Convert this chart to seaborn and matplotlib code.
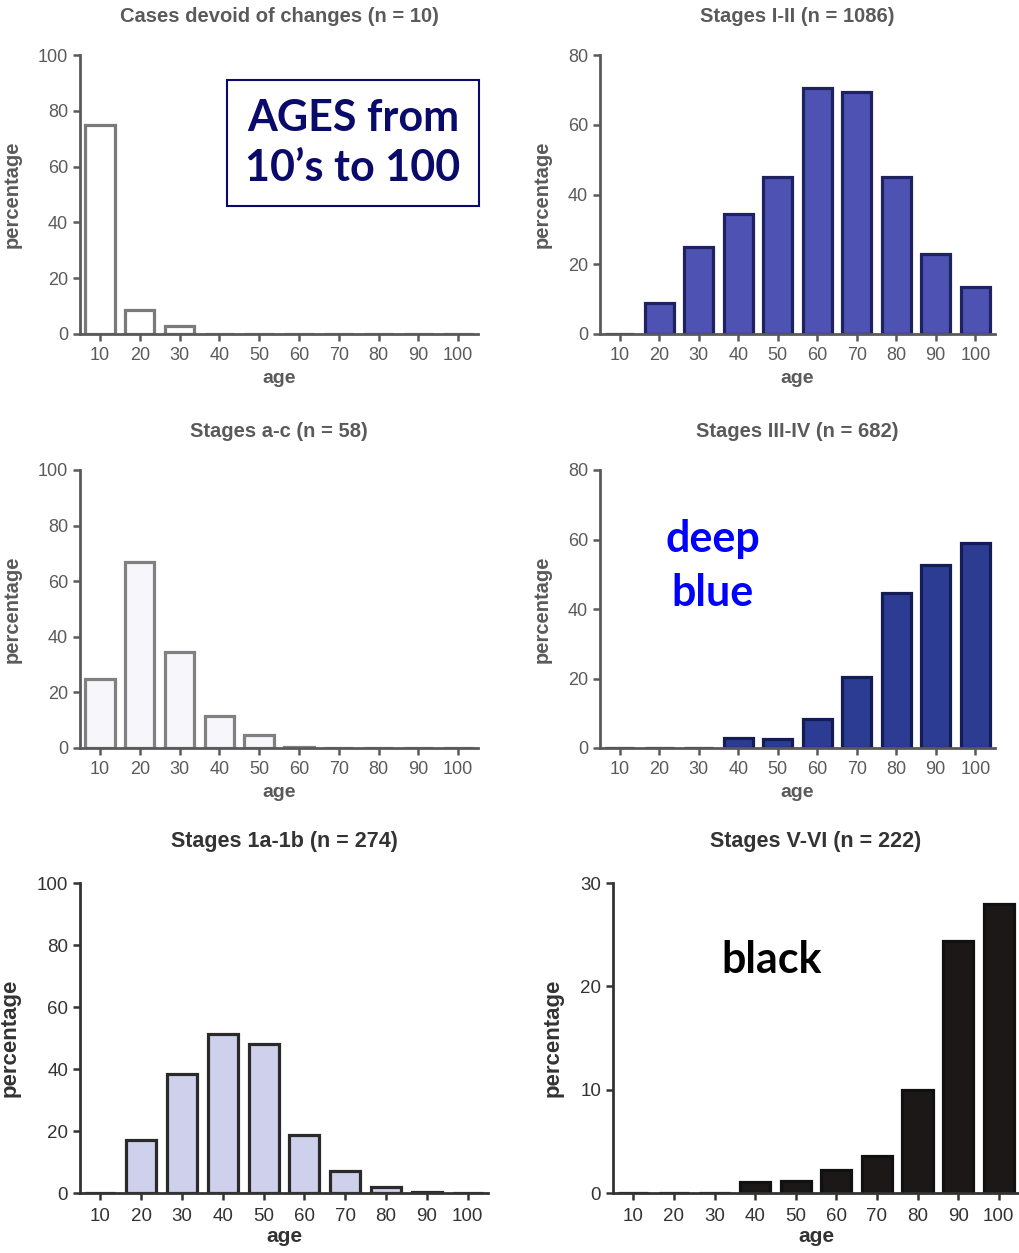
import matplotlib
matplotlib.use('Agg')
import matplotlib.pyplot as plt
import seaborn as sns

# valeurs (pourcentage par tranche d'age)
ages = ['10', '20', '30', '40', '50', '60', '70', '80', '90', '100']
cases_devoid = [75, 8.5, 3, 0, 0, 0, 0, 0, 0, 0]
stages_i_ii = [0, 9, 25, 34.5, 45, 70.5, 69.5, 45, 23, 13.5]
stages_a_c = [25, 67, 34.5, 11.5, 4.5, 0.5, 0, 0, 0, 0]
stages_iii_iv = [0, 0, 0, 2.8, 2.6, 8.3, 20.3, 44.5, 52.7, 59]
stages_1a_1b = [0, 17, 38.3, 51.2, 48, 18.6, 7, 1.8, 0.4, 0]
stages_v_vi = [0, 0, 0, 1.1, 1.2, 2.2, 3.6, 10, 24.4, 28]

titles = ['Cases devoid of changes (n = 10)', 'Stages I-II (n = 1086)',
          'Stages a-c (n = 58)', 'Stages III-IV (n = 682)',
          'Stages 1a-1b (n = 274)', 'Stages V-VI (n = 222)']

sns.set_style('ticks')
plt.rcParams['font.family'] = ['Liberation Sans', 'DejaVu Sans']

fig = plt.figure(figsize=(10.19, 12.53), dpi=100)

W, H = 1019, 1253
def box(l, t, r, b):
    return [l / W, (H - b) / H, (r - l) / W, (b - t) / H]

panels = [
    (box(80, 55, 478, 334), cases_devoid, 'white', '#7a7a7a', 100, 20, '#5a5a5a'),
    (box(600, 55, 995, 334), stages_i_ii, '#4d52b3', '#1f2260', 80, 20, '#5a5a5a'),
    (box(80, 470, 478, 748), stages_a_c, '#f6f6fb', '#808080', 100, 20, '#5a5a5a'),
    (box(600, 470, 995, 748), stages_iii_iv, '#2c3c92', '#141c55', 80, 20, '#5a5a5a'),
    (box(80, 883, 488, 1193), stages_1a_1b, '#cfd0ec', '#2a2a2a', 100, 20, '#333333'),
    (box(613, 883, 1019, 1193), stages_v_vi, '#1c1818', '#111111', 30, 10, '#333333'),
]

for i, (pos, vals, fc, ec, ymax, ystep, tc) in enumerate(panels):
    bottom_row = i >= 4
    ax = fig.add_axes(pos)
    sns.barplot(x=ages, y=vals, color=fc, edgecolor=ec, linewidth=2.3,
                saturation=1, width=0.74, ax=ax)
    ax.set_xlim(-0.5, 9.5)
    ax.set_ylim(0, ymax)
    ax.set_yticks(range(0, ymax + 1, ystep))
    sns.despine(ax=ax)
    for s in ['left', 'bottom']:
        ax.spines[s].set_linewidth(2)
        ax.spines[s].set_color(tc)
    ax.tick_params(colors=tc, labelsize=13.5 if bottom_row else 13, width=1.8,
                   length=5)
    ax.tick_params(axis='x', pad=6 if bottom_row else 4)
    ax.set_title(titles[i], fontsize=15.5 if bottom_row else 14.5, color=tc,
                 fontweight='bold', pad=26 if bottom_row else 24)
    ax.set_xlabel('age', fontsize=15 if bottom_row else 14, color=tc,
                  fontweight='bold', labelpad=1 if bottom_row else 5)
    ax.set_ylabel('percentage', fontsize=16 if bottom_row else 14.5, color=tc,
                  fontweight='bold', labelpad=12)

# annotations ajoutees sur l'image
fig.text(353 / W, 1 - 143 / H, 'AGES from\n10\u2019s to 100', ha='center', va='center',
         fontsize=31, fontweight='bold', color='#0a0a6a', family=['Lato', 'DejaVu Sans'],
         linespacing=1.3,
         bbox=dict(boxstyle='square,pad=0.42', fc='white', ec='#0a0a6a', lw=1.5))
fig.text(713 / W, 1 - 566 / H, 'deep\nblue', ha='center', va='center',
         fontsize=31, fontweight='bold', color='#0000ff', family=['Lato', 'DejaVu Sans'],
         linespacing=1.45)
fig.text(772 / W, 1 - 960 / H, 'black', ha='center', va='center',
         fontsize=31, fontweight='bold', color='black', family=['Lato', 'DejaVu Sans'])

fig.savefig('out.png', dpi=100)
